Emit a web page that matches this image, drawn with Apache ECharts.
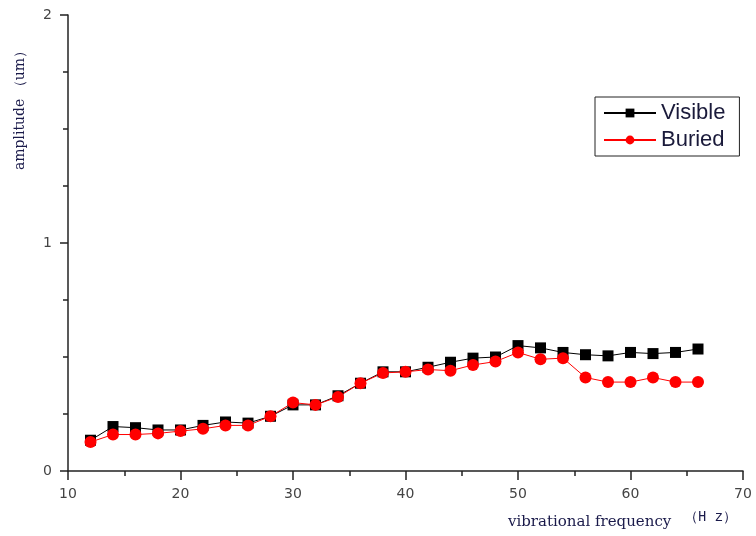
<!DOCTYPE html>
<html>
<head>
<meta charset="utf-8">
<script src="https://cdn.jsdelivr.net/npm/echarts@6/dist/echarts.min.js"></script>
<style>html,body{margin:0;padding:0;background:#fff}#c{width:756px;height:536px}</style>
</head>
<body>
<div id="c"></div>
<script>
const frequency = [12,14,16,18,20,22,24,26,28,30,32,34,36,38,40,42,44,46,48,50,52,54,56,58,60,62,64,66];
const visible = [0.135,0.195,0.19,0.18,0.18,0.2,0.215,0.21,0.24,0.29,0.29,0.33,0.385,0.435,0.435,0.455,0.477,0.495,0.5,0.55,0.54,0.52,0.51,0.505,0.52,0.515,0.52,0.535];
const buried = [0.127,0.16,0.16,0.165,0.175,0.185,0.2,0.2,0.24,0.3,0.29,0.325,0.385,0.43,0.435,0.445,0.44,0.465,0.48,0.52,0.49,0.495,0.41,0.39,0.39,0.41,0.39,0.39];
const xTicks = [10,20,30,40,50,60,70];
const yTicks = [0,1,2];

const chart = echarts.init(document.getElementById('c'));
chart.setOption({
  animation: false,
  grid: {left: 68, right: 13, top: 15, bottom: 65},
  legend: {
    orient: 'vertical', left: 595, top: 97,
    padding: [5, 14, 5, 8], itemGap: 5, itemWidth: 52, itemHeight: 11,
    borderColor: '#222', borderWidth: 1, borderRadius: 0,
    textStyle: {fontFamily: 'Arial', fontSize: 22, color: '#1a1a3a', lineHeight: 22},
    data: ['Visible', 'Buried']
  },
  xAxis: {
    type: 'value', min: xTicks[0], max: xTicks[xTicks.length-1], interval: 10,
    axisLine: {show: true, lineStyle: {color: '#222', width: 1.5}},
    axisTick: {show: true, length: 9, lineStyle: {color: '#222', width: 1.5}},
    minorTick: {show: true, splitNumber: 2, length: 5, lineStyle: {color: '#222', width: 1.5}},
    splitLine: {show: false},
    axisLabel: {fontFamily: 'DejaVu Sans, Arial', fontSize: 14, color: '#444', margin: 16}
  },
  yAxis: {
    type: 'value', min: yTicks[0], max: yTicks[yTicks.length-1], interval: 1,
    axisLine: {show: true, lineStyle: {color: '#222', width: 1.5}},
    axisTick: {show: true, length: 8, lineStyle: {color: '#222', width: 1.5}},
    minorTick: {show: true, splitNumber: 4, length: 5, lineStyle: {color: '#222', width: 1.5}},
    splitLine: {show: false},
    axisLabel: {fontFamily: 'DejaVu Sans, Arial', fontSize: 14, color: '#444', margin: 16}
  },
  graphic: [
    {type: 'text', x: 20, y: 107, rotation: Math.PI/2,
     style: {text: 'amplitude （um）', fontFamily: 'DejaVu Serif, serif', fontSize: 14, fill: '#1a1a4a', textAlign: 'center', textVerticalAlign: 'middle'}},
    {type: 'text', x: 508, y: 522,
     style: {text: 'vibrational frequency', fontFamily: 'DejaVu Serif, serif', fontSize: 15, fill: '#1a1a4a', textAlign: 'left', textVerticalAlign: 'middle'}},
    {type: 'text', x: 684, y: 517,
     style: {text: '（H z）', fontFamily: 'Liberation Mono, monospace', fontSize: 14, fill: '#1a1a4a', textAlign: 'left', textVerticalAlign: 'middle'}}
  ],
  series: [
    {name: 'Visible', type: 'line', data: frequency.map((f,i)=>[f, visible[i]]),
     symbol: 'rect', symbolSize: 11, itemStyle: {color: '#000'}, lineStyle: {color: '#000', width: 1}},
    {name: 'Buried', type: 'line', data: frequency.map((f,i)=>[f, buried[i]]),
     symbol: 'circle', symbolSize: 12, itemStyle: {color: '#ff0000'}, lineStyle: {color: '#ff0000', width: 1}}
  ]
});
</script>
</body>
</html>
